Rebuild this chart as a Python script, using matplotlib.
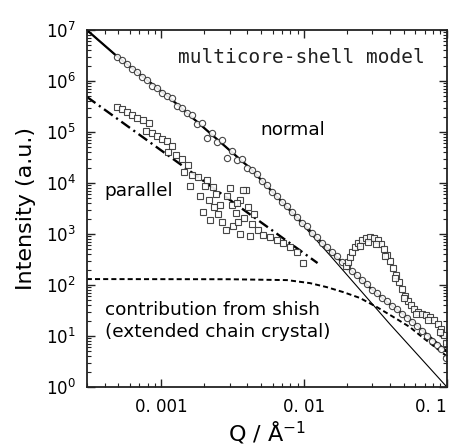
import numpy as np
import matplotlib.pyplot as plt
from matplotlib.ticker import LogLocator, FixedLocator, NullFormatter

plt.rcParams['font.family'] = ['DejaVu Sans']

# normal direction (circles)
q_normal = [4.90e-4, 5.31e-4, 5.75e-4, 6.24e-4, 6.76e-4, 7.33e-4, 7.94e-4, 8.61e-4, 9.33e-4, 1.01e-3,
            1.10e-3, 1.19e-3, 1.29e-3, 1.40e-3, 1.51e-3, 1.64e-3, 1.78e-3, 1.93e-3, 2.09e-3, 2.26e-3,
            2.45e-3, 2.66e-3, 2.88e-3, 3.13e-3, 3.39e-3, 3.67e-3, 3.98e-3, 4.32e-3, 4.68e-3, 5.07e-3,
            5.50e-3, 5.96e-3, 6.46e-3, 7.00e-3, 7.59e-3, 8.22e-3, 8.91e-3, 9.66e-3, 1.05e-2, 1.14e-2,
            1.23e-2, 1.33e-2, 1.45e-2, 1.57e-2, 1.70e-2, 1.84e-2, 2.00e-2, 2.16e-2, 2.34e-2, 2.54e-2,
            2.75e-2, 2.99e-2, 3.24e-2, 3.51e-2, 3.80e-2, 4.12e-2, 4.47e-2, 4.84e-2, 5.25e-2, 5.69e-2,
            6.17e-2, 6.68e-2, 7.24e-2, 7.85e-2, 8.51e-2, 9.12e-2, 9.77e-2]
i_normal = [3.02e6, 2.57e6, 2.14e6, 1.70e6, 1.48e6, 1.19e6, 1.05e6, 8.1e5, 7.2e5, 5.9e5,
            5.1e5, 4.6e5, 3.3e5, 3.0e5, 2.34e5, 2.19e5, 1.45e5, 1.48e5, 7.6e4, 9.5e4,
            6.5e4, 6.9e4, 3.1e4, 4.3e4, 2.8e4, 3.0e4, 2.0e4, 1.78e4, 1.48e4, 1.10e4,
            9.1e3, 6.8e3, 5.6e3, 4.3e3, 3.5e3, 2.7e3, 2.2e3, 1.66e3, 1.41e3, 1.07e3,
            890, 676, 562, 436, 363, 282, 240, 186, 158, 123,
            105, 81, 71, 56, 48, 39, 34, 27.5, 22.9, 18.6,
            15.5, 12.3, 10.0, 8.1, 6.8, 5.5, 3.7]

# parallel direction (squares): low-Q part, then the peak
q_parallel = [4.86e-4, 5.27e-4, 5.71e-4, 6.19e-4, 6.71e-4, 7.39e-4, 8.14e-4, 7.76e-4, 8.55e-4, 9.29e-4,
              1.007e-3, 1.09e-3, 1.18e-3, 1.11e-3, 1.26e-3, 1.39e-3, 1.53e-3, 1.44e-3, 1.63e-3, 1.80e-3,
              1.58e-3, 2.01e-3, 1.86e-3, 2.15e-3, 2.33e-3, 1.95e-3, 2.48e-3, 2.18e-3, 2.65e-3, 2.87e-3,
              3.11e-3, 3.32e-3, 3.54e-3, 3.78e-3, 4.03e-3, 4.30e-3, 2.82e-3, 3.16e-3, 3.54e-3, 3.90e-3,
              3.01e-3, 4.44e-3, 3.43e-3, 2.56e-3, 2.40e-3, 4.73e-3, 4.16e-3, 2.07e-3, 2.29e-3, 3.72e-3,
              3.37e-3, 5.13e-3, 5.74e-3, 6.43e-3, 7.10e-3, 7.94e-3, 8.89e-3, 9.80e-3,
              0.0196, 0.0202, 0.0209, 0.0216, 0.0226, 0.0238, 0.0254, 0.0270, 0.0288, 0.0308,
              0.0328, 0.0344, 0.0361, 0.0379, 0.0398, 0.0418, 0.0439, 0.0460, 0.0483, 0.0507,
              0.0532, 0.0558, 0.0587, 0.0627, 0.0668, 0.0713, 0.0760, 0.0811, 0.0865, 0.0908,
              0.0953, 0.0984, 0.0245, 0.0279, 0.0318, 0.0367, 0.0432, 0.0499, 0.0607, 0.0736, 0.0893]
i_parallel = [3.09e5, 2.83e5, 2.47e5, 2.15e5, 1.88e5, 1.72e5, 1.50e5, 1.05e5, 9.5e4, 8.4e4,
              7.3e4, 6.7e4, 5.3e4, 4.06e4, 3.54e4, 2.96e4, 2.25e4, 1.64e4, 1.44e4, 1.31e4,
              8.7e3, 8.7e3, 5.6e3, 4.6e3, 3.4e3, 2.7e3, 2.47e3, 1.88e3, 1.72e3, 5.6e3,
              3.7e3, 2.58e3, 4.6e3, 2.06e3, 3.4e3, 1.57e3, 1.20e3, 1.44e3, 1.0e3, 7.3e3,
              8.0e3, 2.47e3, 1.72e3, 3.7e3, 6.1e3, 1.20e3, 915, 1.15e4, 8.4e3, 7.3e3,
              4.1e3, 955, 873, 762, 667, 556, 444, 270,
              236, 282, 354, 444, 556, 667, 762, 835, 873, 835,
              762, 637, 508, 387, 296, 215, 157, 115, 83.5, 60.8,
              48.5, 40.6, 33.8, 29.6, 27.0, 25.8, 23.6, 20.6, 17.2, 13.7,
              10.5, 7.3, 582, 697, 637, 371, 137, 55.6, 27.0, 20.6, 12.0]

# model curves
q_core = [3.0e-4, 4.95e-4, 1.15e-3, 4.16e-3, 6.75e-3, 9.8e-3, 0.0151, 0.0398, 0.1]
i_core = [1.0e7, 2.95e6, 4.6e5, 1.97e4, 4.6e3, 1.5e3, 387, 17.2, 1.0]

q_total = [3.0e-4, 4.95e-4, 1.15e-3, 4.16e-3, 6.75e-3, 9.8e-3, 0.0151, 0.0205, 0.0282, 0.0398, 0.055, 0.075, 0.1]
i_total = [1.0e7, 2.95e6, 4.6e5, 1.98e4, 4.73e3, 1.61e3, 475, 214, 94, 42, 21.4, 9.9, 5.0]

q_shish = [3.0e-4, 3.0e-3, 7.6e-3, 0.011, 0.0144, 0.0187, 0.0245, 0.0323, 0.0418, 0.055, 0.063, 0.08, 0.1]
i_shish = [131, 130, 125, 109, 91, 73, 56, 37, 24, 15, 11, 6.5, 4.0]

q_par_fit = [3.0e-4, 0.0124]
i_par_fit = [4.9e5, 270]

x_ticks = [0.001, 0.01, 0.1]
x_labels = ['0. 001', '0. 01', '0. 1']

fig = plt.figure(figsize=(4.57, 4.48), dpi=100)
ax = fig.add_axes([0.190, 0.136, 0.788, 0.797])

ax.plot(q_core, i_core, '-', color='black', lw=0.8)
ax.plot(q_total, i_total, '-', color='black', lw=1.6)
ax.plot(q_shish, i_shish, color='black', lw=1.4, linestyle=(0, (2.6, 1.6)))
ax.plot(q_par_fit, i_par_fit, color='black', lw=1.7, linestyle=(0, (4.5, 1.8, 0.9, 1.8)))
ax.plot(q_normal, i_normal, 'o', mfc='white', mec='#333333', mew=0.8, ms=4.5, alpha=0.9)
ax.plot(q_parallel, i_parallel, 's', mfc='white', mec='#333333', mew=0.8, ms=4.8, alpha=0.9)

ax.set_xscale('log')
ax.set_yscale('log')
ax.set_xlim(3e-4, 0.1)
ax.set_ylim(1, 1e7)

ax.xaxis.set_major_locator(FixedLocator(x_ticks))
ax.set_xticklabels(x_labels, fontsize=12)
ax.get_xticklabels()[-1].set_horizontalalignment('right')
ax.xaxis.set_minor_locator(LogLocator(base=10, subs=np.arange(2, 10), numticks=20))
ax.xaxis.set_minor_formatter(NullFormatter())

yt = [10.0 ** k for k in range(8)]
ax.yaxis.set_major_locator(FixedLocator(yt))
ax.set_yticklabels(['$\\mathregular{10^{%d}}$' % k for k in range(8)], fontsize=12)
ax.yaxis.set_minor_locator(LogLocator(base=10, subs=np.arange(2, 10), numticks=20))
ax.yaxis.set_minor_formatter(NullFormatter())

ax.tick_params(which='both', direction='in', top=True, right=True, color='#222222')
ax.tick_params(which='major', length=6, width=1.0, pad=8)
ax.tick_params(which='minor', length=3, width=0.8)
for s in ax.spines.values():
    s.set_linewidth(1.3)
    s.set_color('#222222')

ax.set_ylabel('Intensity (a.u.)', fontsize=16, labelpad=7)
ax.set_xlabel('Q / Å$^{\\mathregular{-1}}$', fontsize=16, labelpad=2)

ax.text(0.253, 0.908, 'multicore-shell model', transform=ax.transAxes, family='DejaVu Sans Mono',
        fontsize=14, color='#222222')
ax.text(0.481, 0.706, 'normal', transform=ax.transAxes, fontsize=13.3)
ax.text(0.05, 0.535, 'parallel', transform=ax.transAxes, fontsize=13.3)
ax.text(0.05, 0.202, 'contribution from shish', transform=ax.transAxes, fontsize=13.3)
ax.text(0.05, 0.14, '(extended chain crystal)', transform=ax.transAxes, fontsize=13.3)

fig.savefig('out.png', dpi=100)
